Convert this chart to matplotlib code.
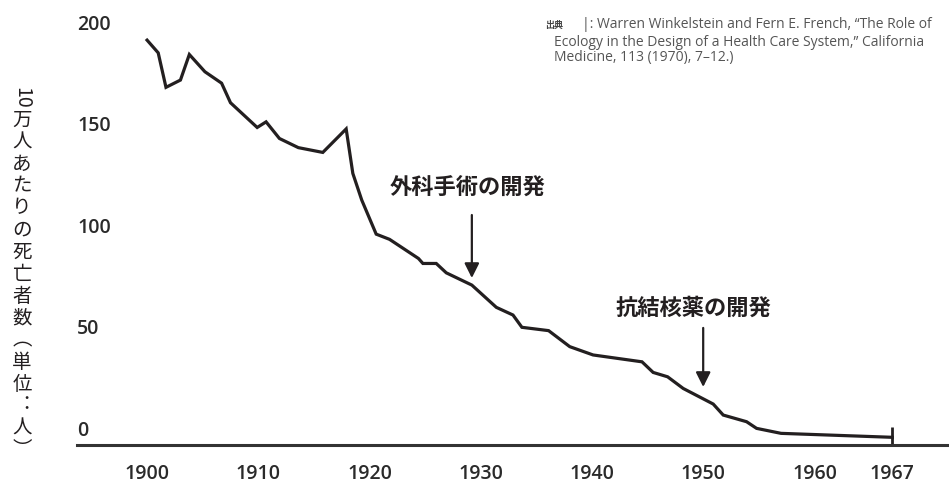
import matplotlib
matplotlib.use("Agg")
import matplotlib.pyplot as plt
from matplotlib.transforms import ScaledTranslation

# data (deaths per 100,000)
years = [1900, 1901, 1901.7, 1903.0, 1903.8, 1905.2, 1906.7, 1907.5, 1909.9, 1910.7,
         1911.9, 1913.6, 1915.8, 1917.9, 1918.5, 1919.3, 1920.6, 1921.8, 1924.4, 1924.8,
         1926.0, 1926.9, 1929.2, 1931.4, 1932.9, 1933.7, 1936.1, 1938.0, 1940.1, 1944.5,
         1945.5, 1946.8, 1948.2, 1950.9, 1951.8, 1953.9, 1954.8, 1957.0, 1967.0]
deaths = [194.7, 188.6, 172.0, 175.5, 187.8, 179.5, 174.0, 164.6, 152.7, 155.4,
          147.4, 143.0, 140.7, 152.0, 130.6, 117.8, 101.4, 98.9, 89.7, 87.3,
          87.3, 82.8, 76.9, 66.2, 62.5, 56.6, 55.0, 47.3, 43.3, 40.0,
          34.9, 32.8, 27.2, 19.7, 14.4, 11.2, 8.0, 5.6, 3.7]

xticks = [1900, 1910, 1920, 1930, 1940, 1950, 1960, 1967]
yticks = [0, 50, 100, 150, 200]

notes = ["外科手術の開発", "抗結核薬の開発"]
note_years = [1929.2, 1950.0]
note_tip = [80.3, 27.9]
note_tail = [110.6, 56.3]
note_text_pos = [(1928.8, 123.6), (1949.1, 65.9)]

ylabel = "万人あたりの死亡者数︵単位︓人︶"
source_lines = [
    "|: Warren Winkelstein and Fern E. French, \u201cThe Role of",
    "Ecology in the Design of a Health Care System,\u201d California",
    "Medicine, 113 (1970), 7\u201312.)",
]

INK = "#231f20"
JP = ["Noto Sans CJK JP", "DejaVu Sans"]
LAT = ["Open Sans", "DejaVu Sans"]

fig = plt.figure(figsize=(9.49, 4.88), dpi=100)
ax = fig.add_axes([77 / 949, 43 / 488, 1 - 77 / 949, 445 / 488])

ax.plot(years, deaths, color=INK, lw=2.3, solid_joinstyle="miter", zorder=3)
# end marker at 1967
ax.vlines(1967, 0, 8.6, color=INK, lw=2)

ax.set_xlim(1893.7, 1972.1)
ax.set_ylim(0, 214)

for s in ["top", "right", "left"]:
    ax.spines[s].set_visible(False)
ax.spines["bottom"].set_linewidth(2.2)
ax.spines["bottom"].set_color("#333333")

ax.set_xticks(xticks)
ax.set_xticklabels([str(t) for t in xticks], fontsize=14, color="#2a2a2a",
                   family=LAT, fontweight="semibold")
ax.tick_params(axis="x", length=0, pad=14)

ax.set_yticks(yticks)
ax.set_yticklabels([str(t) for t in yticks], fontsize=14, color="#2a2a2a",
                   family=LAT, fontweight="semibold")
ax.tick_params(axis="y", length=0, pad=0)
for v, lab in zip(yticks, ax.get_yticklabels()):
    lab.set_ha("left")
    dy = (17 - 0.05 * v) / 100
    lab.set_transform(lab.get_transform() + ScaledTranslation(0, dy, fig.dpi_scale_trans))

for txt, xa, tip, tail, (tx, ty) in zip(notes, note_years, note_tip, note_tail, note_text_pos):
    ax.annotate("", xy=(xa, tip), xytext=(xa, tail),
                arrowprops=dict(arrowstyle="-|>", color=INK, lw=1.6, mutation_scale=22,
                                shrinkA=0, shrinkB=0))
    ax.text(tx, ty, txt, ha="center", va="center", fontsize=16, fontweight="bold",
            family=JP, color=INK)

# vertical y label
fig.text(22 / 949, 1 - 98 / 488, "10", rotation=-90, ha="center", va="center",
         fontsize=14, family=JP, color=INK)
for i, ch in enumerate(ylabel):
    fig.text(22 / 949, 1 - (120 + 22 * i) / 488, ch, ha="center", va="center",
             fontsize=14, family=JP, color=INK)

# source note
fig.text(545 / 949, 1 - 25 / 488, "出典", ha="left", va="center", fontsize=6.5,
         fontweight="bold", family=JP, color="#444444")
fig.text(582 / 949, 1 - 25 / 488, source_lines[0], ha="left", va="center",
         fontsize=10, family=LAT, color="#555555")
for i, line in enumerate(source_lines[1:]):
    fig.text(554 / 949, 1 - (42 + 16 * i) / 488, line, ha="left", va="center",
             fontsize=10, family=LAT, color="#555555")

fig.savefig("out.png", dpi=100)
